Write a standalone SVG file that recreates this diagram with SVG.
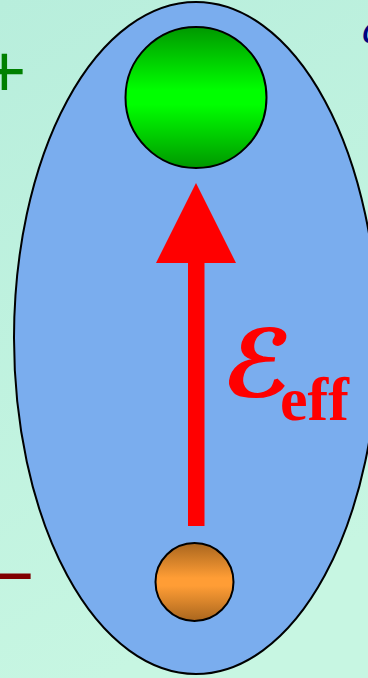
<svg xmlns="http://www.w3.org/2000/svg" width="368" height="678" viewBox="0 0 368 678">
<defs>
<linearGradient id="bg" x1="0" y1="0" x2="0.3" y2="1">
<stop offset="0" stop-color="#b8eedc"/>
<stop offset="1" stop-color="#c7f6e2"/>
</linearGradient>
<linearGradient id="gGreen" x1="0" y1="0" x2="0" y2="1">
<stop offset="0" stop-color="#009800"/>
<stop offset="0.45" stop-color="#00ff00"/>
<stop offset="0.55" stop-color="#00ff00"/>
<stop offset="1" stop-color="#009800"/>
</linearGradient>
<linearGradient id="gOrange" x1="0" y1="0" x2="0" y2="1">
<stop offset="0" stop-color="#a9661e"/>
<stop offset="0.45" stop-color="#ff9d35"/>
<stop offset="0.55" stop-color="#ff9d35"/>
<stop offset="1" stop-color="#a9661e"/>
</linearGradient>
<style>
.sign{font-family:"Liberation Sans",Arial,sans-serif;font-size:75px;text-anchor:middle}
.ball{stroke:#000;stroke-width:2}
</style>
</defs>
<rect x="0" y="0" width="368" height="678" fill="url(#bg)"/>
<text class="sign" x="4.5" y="97" fill="#008000">+</text>
<text class="sign" x="12.5" y="601" fill="#800000">−</text>
<text x="362" y="43" font-family="Liberation Serif,serif" font-style="italic" font-size="44" fill="#000080">d</text>
<g id="molecule">
<ellipse cx="196" cy="338" rx="182" ry="336" fill="#7aadee" stroke="#000" stroke-width="2"/>
</g>
<g id="atomTop">
<circle class="ball" cx="196" cy="97.5" r="70.5" fill="url(#gGreen)"/>
</g>
<g id="atomBottom">
<circle class="ball" cx="194.5" cy="582" r="39" fill="url(#gOrange)"/>
</g>
<g id="connectors">
<rect x="188" y="262" width="16.5" height="264" fill="#ff0000"/>
<polygon points="196,183 236,263 156,263" fill="#ff0000"/>
</g>
<g id="label">
<text x="221" y="396" font-family="DejaVu Sans,sans-serif" font-style="italic" font-weight="bold" font-size="92" fill="#ff0000" stroke="#ff0000" stroke-width="1.5" transform="translate(0,396) skewX(-8) translate(0,-396)">ℰ</text>
<text x="280" y="420" font-family="Liberation Serif,serif" font-weight="bold" font-size="62" fill="#ff0000">eff</text>
</g>
</svg>
